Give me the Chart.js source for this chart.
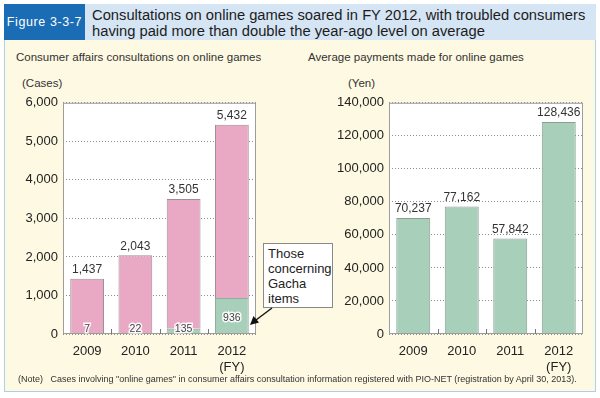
<!DOCTYPE html>
<html>
<head>
<meta charset="utf-8">
<script src="https://cdn.jsdelivr.net/npm/chart.js@4/dist/chart.umd.min.js"></script>
<style>
  html, body { margin: 0; padding: 0; background: #fff; }
  body { width: 600px; height: 398px; position: relative; overflow: hidden;
         font-family: "Liberation Sans", Arial, sans-serif; color: #222; }
  .abs { position: absolute; white-space: nowrap; }
  #figtag { left: 4px; top: 4px; width: 81px; height: 36px; background: #1a6db5;
            color: #fff; font-size: 12.5px; line-height: 36px; overflow: hidden;
            text-align: center; letter-spacing: 0.6px; }
  #titlebar { left: 85px; top: 4px; width: 511px; height: 36px; background: #d5e5f4; }
  #title { left: 92px; top: 7px; font-size: 15.5px; line-height: 16px; color: #1c1c1c;
           transform: scaleX(0.95); transform-origin: left top; }
  #panel { left: 4px; top: 40px; width: 590px; height: 351px; background: #fdf9e2;
           border: 1px solid #a9d2ea; border-top: none; }
  .sub { font-size: 11.5px; color: #333; }
  .unit { font-size: 11.5px; color: #333; }
  #note { left: 18px; top: 374px; font-size: 9px; color: #333; white-space: pre; }
  #callout { left: 263px; top: 243px; width: 70px; height: 65px; background: #fff;
             border: 1px solid #8a8a8a; font-size: 13px; line-height: 15px; padding: 2px 0 0 4px;
             box-sizing: border-box; color: #222; }
  canvas { position: absolute; }
</style>
</head>
<body>
<div id="titlebar" class="abs"></div>
<div id="figtag" class="abs">Figure 3-3-7</div>
<div id="title" class="abs">Consultations on online games soared in FY 2012, with troubled consumers<br>having paid more than double the year-ago level on average</div>
<div id="panel" class="abs"></div>
<div class="abs sub" style="left:16px; top:51px;">Consumer affairs consultations on online games</div>
<div class="abs sub" style="left:308px; top:51px;">Average payments made for online games</div>
<div class="abs unit" style="left:22px; top:77px;">(Cases)</div>
<div class="abs unit" style="left:348px; top:77px;">(Yen)</div>

<canvas id="left" style="left:10px; top:90px;" width="256" height="285"></canvas>
<canvas id="right" style="left:310px; top:90px;" width="283" height="285"></canvas>

<div id="callout" class="abs">Those<br>concerning<br>Gacha<br>items</div>
<svg class="abs" style="left:0; top:0;" width="600" height="398">
  <line x1="272" y1="308" x2="256" y2="320" stroke="#111" stroke-width="1.4"/>
  <polygon points="250,325 253.5,316 259,322.5" fill="#111"/>
</svg>

<div id="note" class="abs">(Note)   Cases involving "online games" in consumer affairs consultation information registered with PIO-NET (registration by April 30, 2013).</div>

<script>
"use strict";

// ---------------------------------------------------------------------------
// Data
// ---------------------------------------------------------------------------
const years = ["2009", "2010", "2011", ["2012", "(FY)"]];
const totalCases = [1437, 2043, 3505, 5432];
const gachaCases = [7, 22, 135, 936];
const otherCases = [1430, 2021, 3370, 4496];
const avgPayment = [70237, 77162, 57842, 128436];

const leftTicks = { max: 6000, step: 1000 };
const rightTicks = { max: 140000, step: 20000 };

// ---------------------------------------------------------------------------
// Styling
// ---------------------------------------------------------------------------
const COL = { pink: "#e9a9c4", green: "#a8cfba", edge: "#9b9096", grid: "#8c8c8c",
              frame: "#9d9d9d", txt: "#222" };
const FONT = "'Liberation Sans', Arial, sans-serif";
const fmt = (v) => Number(v).toLocaleString("en-US");

// white plot background, frame, and small inward ticks between categories
const plotFrame = {
  id: "plotFrame",
  beforeDraw(chart) {
    const { ctx, chartArea: a } = chart;
    ctx.save();
    ctx.fillStyle = "#fff";
    ctx.fillRect(a.left, a.top, a.right - a.left, a.bottom - a.top);
    ctx.restore();
  },
  afterDatasetsDraw(chart) {
    const { ctx, chartArea: a, scales } = chart;
    const x = scales.x;
    ctx.save();
    ctx.strokeStyle = COL.frame;
    ctx.lineWidth = 1;
    ctx.strokeRect(a.left + 0.5, a.top + 0.5, a.right - a.left - 1, a.bottom - a.top - 1);
    ctx.strokeStyle = "#777";
    for (let i = 0; i < years.length - 1; i++) {
      const px = Math.round((x.getPixelForValue(i) + x.getPixelForValue(i + 1)) / 2) + 0.5;
      ctx.beginPath();
      ctx.moveTo(px, a.bottom);
      ctx.lineTo(px, a.bottom - 5);
      ctx.stroke();
    }
    ctx.restore();
  },
};

function haloText(ctx, s, x, y) {
  ctx.lineWidth = 3;
  ctx.strokeStyle = "rgba(255,255,255,0.9)";
  ctx.strokeText(s, x, y);
  ctx.fillStyle = "#444";
  ctx.fillText(s, x, y);
}

function baseOpts(ticks, yWidth) {
  return {
    responsive: false, animation: false,
    layout: { padding: { top: 7, right: 10, left: 0, bottom: 0 } },
    plugins: { legend: { display: false }, tooltip: { enabled: false } },
    scales: {
      x: {
        stacked: true,
        grid: { display: false },
        border: { display: false },
        ticks: { color: COL.txt, font: { family: FONT, size: 13 }, padding: 2, maxRotation: 0 },
        afterFit(s) { s.height = 41; },
      },
      y: {
        stacked: true, min: 0, max: ticks.max,
        grid: { color: COL.grid, lineWidth: 1, drawTicks: false },
        border: { display: false, dash: [1, 2] },
        ticks: { stepSize: ticks.step, color: COL.txt, padding: 5,
                 font: { family: FONT, size: 13 }, callback: fmt },
        afterFit(s) { s.width = yWidth; },
      },
    },
  };
}

// ---------------------------------------------------------------------------
// Left: consultations (stacked)
// ---------------------------------------------------------------------------
const leftLabels = {
  id: "leftLabels",
  afterDatasetsDraw(chart) {
    const ctx = chart.ctx;
    const top = chart.getDatasetMeta(1).data;
    const low = chart.getDatasetMeta(0).data;
    ctx.save();
    ctx.textAlign = "center";
    ctx.font = `12px ${FONT}`;
    ctx.fillStyle = "#333";
    ctx.textBaseline = "bottom";
    top.forEach((bar, i) => ctx.fillText(fmt(totalCases[i]), bar.x, bar.y - 3));
    ctx.textBaseline = "middle";
    ctx.font = `10.5px ${FONT}`;
    low.forEach((bar, i) => {
      const h = bar.base - bar.y;
      const y = h > 20 ? bar.y + h / 2 + 2 : bar.base - 4;
      haloText(ctx, fmt(gachaCases[i]), bar.x, y);
    });
    ctx.restore();
  },
};

const lo = baseOpts(leftTicks, 53);
new Chart(document.getElementById("left"), {
  type: "bar",
  data: {
    labels: years,
    datasets: [
      { data: gachaCases, backgroundColor: COL.green, borderColor: "#8fae9d", borderWidth: 1,
        barPercentage: 0.7, categoryPercentage: 1 },
      { data: otherCases, backgroundColor: COL.pink, borderColor: COL.edge, borderWidth: 1,
        barPercentage: 0.7, categoryPercentage: 1 },
    ],
  },
  options: lo,
  plugins: [plotFrame, leftLabels],
});

// ---------------------------------------------------------------------------
// Right: average payments
// ---------------------------------------------------------------------------
const rightLabels = {
  id: "rightLabels",
  afterDatasetsDraw(chart) {
    const ctx = chart.ctx;
    ctx.save();
    ctx.textAlign = "center";
    ctx.textBaseline = "bottom";
    ctx.font = `12px ${FONT}`;
    ctx.fillStyle = "#333";
    chart.getDatasetMeta(0).data.forEach((bar, i) =>
      ctx.fillText(fmt(avgPayment[i]), bar.x, bar.y - 3));
    ctx.restore();
  },
};

const ro = baseOpts(rightTicks, 79);
new Chart(document.getElementById("right"), {
  type: "bar",
  data: {
    labels: years,
    datasets: [
      { data: avgPayment, backgroundColor: COL.green, borderColor: "#8a9e94", borderWidth: 1,
        barPercentage: 0.7, categoryPercentage: 1 },
    ],
  },
  options: ro,
  plugins: [plotFrame, rightLabels],
});
</script>
</body>
</html>
